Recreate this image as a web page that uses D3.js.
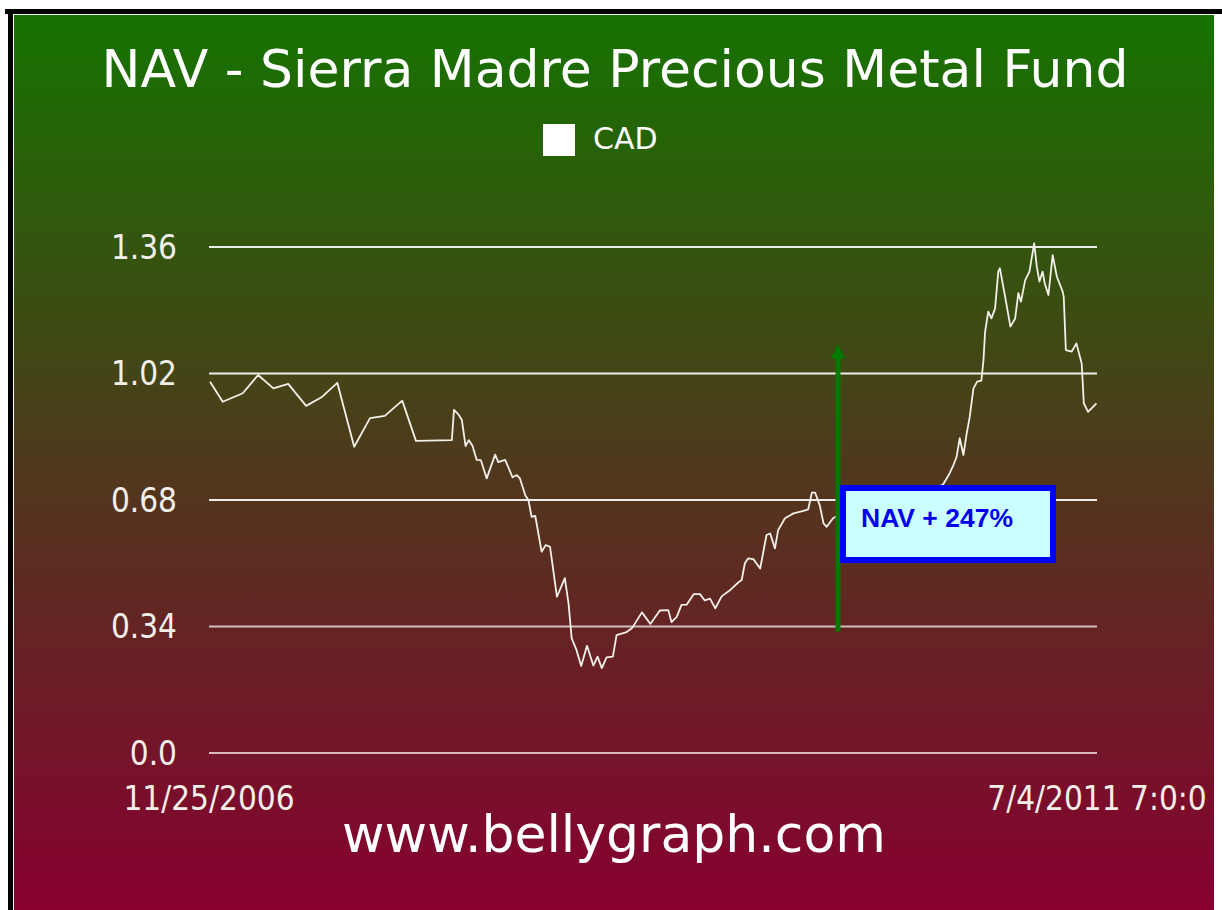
<!DOCTYPE html>
<meta charset="utf-8">
<style>
  body { margin: 0; background: #fff; }
  svg { display: block; }
</style>
<svg width="1222" height="910"></svg>
<script src="https://d3js.org/d3.v7.min.js"></script>
<script>

// days since 11/25/2006 and NAV in CAD
var dayOffsets = [2, 26, 64, 93, 122, 150, 184, 213, 243, 275, 305, 333, 366, 392, 460, 464, 472, 479, 486, 492,
  499, 507, 515, 526, 542, 548, 561, 575, 583, 589, 599, 605, 611, 618, 630, 638, 646, 659, 674, 681,
  687, 696, 705, 716, 728, 736, 744, 753, 765, 772, 791, 801, 820, 836, 854, 870, 876, 886, 895, 905,
  918, 930, 939, 949, 959, 971, 988, 1003, 1009, 1015, 1021, 1031, 1044, 1056, 1063, 1072, 1078, 1091, 1107, 1126,
  1135, 1142, 1148, 1157, 1164, 1170, 1182, 1205, 1233, 1261, 1290, 1318, 1347, 1371, 1391, 1403, 1410, 1416, 1422, 1429,
  1435, 1441, 1448, 1455, 1463, 1467, 1470, 1476, 1482, 1489, 1495, 1498, 1508, 1518, 1527, 1533, 1538, 1546, 1554, 1563,
  1568, 1573, 1579, 1583, 1590, 1598, 1606, 1617, 1619, 1623, 1634, 1643, 1653, 1657, 1665, 1681];
var navValues = [0.998, 0.944, 0.967, 1.016, 0.980, 0.992, 0.933, 0.956, 0.995, 0.823, 0.900, 0.906, 0.947, 0.839, 0.841, 0.922, 0.911, 0.895, 0.825, 0.841,
  0.826, 0.788, 0.787, 0.738, 0.802, 0.782, 0.788, 0.741, 0.747, 0.738, 0.693, 0.680, 0.635, 0.637, 0.541, 0.559, 0.554, 0.420, 0.470, 0.402,
  0.308, 0.277, 0.234, 0.288, 0.235, 0.259, 0.228, 0.257, 0.259, 0.317, 0.325, 0.335, 0.378, 0.347, 0.383, 0.384, 0.352, 0.366, 0.398, 0.399,
  0.427, 0.427, 0.410, 0.415, 0.389, 0.421, 0.439, 0.459, 0.465, 0.510, 0.523, 0.521, 0.496, 0.586, 0.590, 0.550, 0.599, 0.631, 0.644, 0.651,
  0.655, 0.700, 0.700, 0.665, 0.617, 0.608, 0.631, 0.648, 0.667, 0.659, 0.680, 0.688, 0.680, 0.702, 0.723, 0.752, 0.774, 0.796, 0.846, 0.801,
  0.857, 0.904, 0.980, 0.998, 1.001, 1.056, 1.132, 1.186, 1.168, 1.195, 1.294, 1.303, 1.226, 1.146, 1.168, 1.236, 1.213, 1.271, 1.294, 1.370,
  1.307, 1.267, 1.294, 1.262, 1.231, 1.338, 1.280, 1.240, 1.226, 1.083, 1.079, 1.101, 1.047, 0.940, 0.917, 0.940];

var yTicks = [0, 0.34, 0.68, 1.02, 1.36];
var yTickLabels = ["0.0", "0.34", "0.68", "1.02", "1.36"];
var xLabels = ["11/25/2006", "7/4/2011 7:0:0"];
var totalDays = 1682;
var titleText = "NAV - Sierra Madre Precious Metal Fund";
var seriesName = "CAD";
var noteText = "NAV + 247%";
var noteFrom = 0.34, noteTo = 1.10;

var svg = d3.select("svg");

var data = dayOffsets.map(function(d, i) { return {day: d, value: navValues[i]}; });

var x = d3.scaleLinear().domain([0, totalDays]).range([209, 1097]);
var y = d3.scaleLinear().domain([0, 1.36]).range([753, 247]);

// background gradient
var defs = svg.append("defs");
var grad = defs.append("linearGradient")
    .attr("id", "bg")
    .attr("x1", 0).attr("y1", 0).attr("x2", 0).attr("y2", 1);
grad.append("stop").attr("offset", "0%").attr("stop-color", "#167300");
grad.append("stop").attr("offset", "50%").attr("stop-color", "#4f391c");
grad.append("stop").attr("offset", "100%").attr("stop-color", "#880030");

svg.append("rect")
    .attr("x", 14).attr("y", 15)
    .attr("width", 1200).attr("height", 895)
    .attr("fill", "url(#bg)");

// frame
svg.append("rect").attr("x", 5).attr("y", 9).attr("width", 1217).attr("height", 5).attr("fill", "#000");
svg.append("rect").attr("x", 8).attr("y", 9).attr("width", 5).attr("height", 901).attr("fill", "#000");

// title + legend
svg.append("text")
    .attr("x", 615).attr("y", 87)
    .attr("text-anchor", "middle")
    .attr("font-family", "DejaVu Sans")
    .attr("font-size", 52)
    .attr("fill", "#fff")
    .text(titleText);

svg.append("rect")
    .attr("x", 543).attr("y", 124)
    .attr("width", 32).attr("height", 32)
    .attr("fill", "#fff");
svg.append("text")
    .attr("x", 593).attr("y", 149)
    .attr("font-family", "DejaVu Sans")
    .attr("font-size", 30)
    .attr("fill", "#fff")
    .text(seriesName);

// grid
svg.append("g")
    .selectAll("line")
    .data(yTicks)
    .enter()
    .append("line")
      .attr("x1", x(0)).attr("x2", x(totalDays))
      .attr("y1", function(d) { return y(d); })
      .attr("y2", function(d) { return y(d); })
      .attr("stroke", "#fff")
      .attr("stroke-opacity", function(d) { return d < 0.5 ? 0.7 : 0.9; })
      .attr("stroke-width", 2);

svg.append("g")
    .selectAll("text")
    .data(yTicks)
    .enter()
    .append("text")
      .attr("x", 177)
      .attr("y", function(d) { return y(d); })
      .attr("dy", "0.36em")
      .attr("text-anchor", "end")
      .attr("font-family", "DejaVu Sans Condensed")
      .attr("font-size", 33)
      .attr("fill", "#f2eee8")
      .text(function(d, i) { return yTickLabels[i]; });

svg.append("g")
    .selectAll("text")
    .data([0, totalDays])
    .enter()
    .append("text")
      .attr("x", function(d) { return x(d); })
      .attr("y", 810)
      .attr("text-anchor", "middle")
      .attr("font-family", "DejaVu Sans Condensed")
      .attr("font-size", 33)
      .attr("fill", "#f2eee8")
      .text(function(d, i) { return xLabels[i]; });

// NAV line
var line = d3.line()
    .x(function(d) { return x(d.day); })
    .y(function(d) { return y(d.value); });

svg.append("path")
    .datum(data)
    .attr("d", line)
    .attr("fill", "none")
    .attr("stroke", "#f3efe9")
    .attr("stroke-width", 1.8)
    .attr("stroke-linejoin", "round");

// annotation arrow
var ax = 838;
svg.append("line")
    .attr("x1", ax).attr("x2", ax)
    .attr("y1", y(noteFrom) + 5).attr("y2", y(noteTo) + 14)
    .attr("stroke", "#007a00")
    .attr("stroke-width", 5);
svg.append("path")
    .attr("d", "M" + ax + "," + y(noteTo) + "L" + (ax - 7) + "," + (y(noteTo) + 15) + "L" + (ax + 7) + "," + (y(noteTo) + 15) + "Z")
    .attr("fill", "#007a00");

svg.append("rect")
    .attr("x", 843).attr("y", 488)
    .attr("width", 210).attr("height", 72)
    .attr("fill", "#ccffff")
    .attr("stroke", "#0000ff")
    .attr("stroke-width", 6);
svg.append("text")
    .attr("x", 861).attr("y", 527)
    .attr("font-family", "Liberation Sans")
    .attr("font-weight", "bold")
    .attr("font-size", 26.5)
    .attr("fill", "#0000ee")
    .text(noteText);

// footer
svg.append("text")
    .attr("x", 614).attr("y", 852)
    .attr("text-anchor", "middle")
    .attr("font-family", "DejaVu Sans")
    .attr("font-size", 52)
    .attr("fill", "#fff")
    .text("www.bellygraph.com");

</script>
